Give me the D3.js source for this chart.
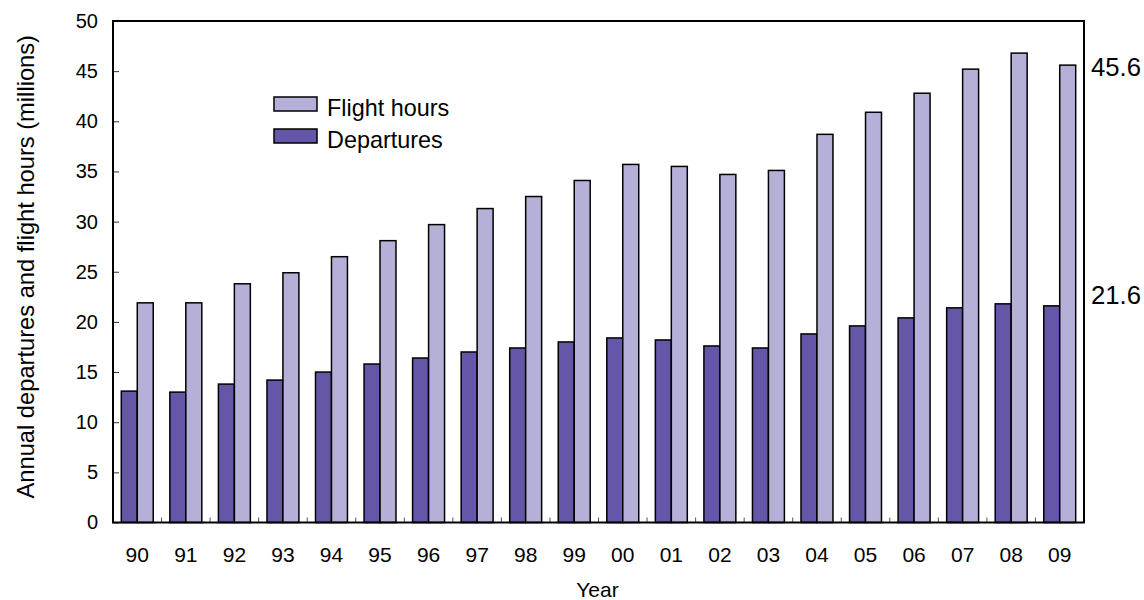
<!DOCTYPE html>
<html>
<head>
<meta charset="utf-8">
<script src="https://cdn.jsdelivr.net/npm/d3@7"></script>
<style>
  html, body { margin: 0; padding: 0; background: #fff; }
  svg { display: block; font-family: "Liberation Sans", Arial, sans-serif; }
</style>
</head>
<body>
<svg id="chart" width="1144" height="600"></svg>
<script>
const years = ["90","91","92","93","94","95","96","97","98","99","00","01","02","03","04","05","06","07","08","09"];
const departures = [13.1, 13.0, 13.8, 14.2, 15.0, 15.8, 16.4, 17.0, 17.4, 18.0, 18.4, 18.2, 17.6, 17.4, 18.8, 19.6, 20.4, 21.4, 21.8, 21.6];
const flightHours = [21.9, 21.9, 23.8, 24.9, 26.5, 28.1, 29.7, 31.3, 32.5, 34.1, 35.7, 35.5, 34.7, 35.1, 38.7, 40.9, 42.8, 45.2, 46.8, 45.6];
const yTicks = [0, 5, 10, 15, 20, 25, 30, 35, 40, 45, 50];
const seriesNames = ["Departures", "Flight hours"];
const legendOrder = ["Flight hours", "Departures"];
const endLabels = ["45.6", "21.6"];

const colors = { "Departures": "#6556a8", "Flight hours": "#b5b0d8" };
const values = { "Departures": departures, "Flight hours": flightHours };

const svg = d3.select("#chart");
const m = { left: 113, right: 1084, top: 21, bottom: 522.5 };

const x = d3.scaleBand().domain(years).range([m.left, m.right]).padding(0);
const x1 = d3.scaleBand().domain(seriesNames).range([0, x.bandwidth()]).paddingInner(0).paddingOuter(0.52);
const y = d3.scaleLinear().domain([0, 50]).range([m.bottom, m.top]);

// bars
const g = svg.append("g");
seriesNames.forEach(s => {
  g.selectAll(null)
    .data(years.map((yr, i) => ({ yr, v: values[s][i] })))
    .join("rect")
    .attr("x", d => x(d.yr) + x1(s))
    .attr("y", d => y(d.v))
    .attr("width", x1.bandwidth())
    .attr("height", d => y(0) - y(d.v))
    .attr("fill", colors[s])
    .attr("stroke", "#000")
    .attr("stroke-width", 1.5);
});

// y axis
const yAxis = d3.axisLeft(y).tickValues(yTicks).tickSize(-6).tickPadding(15);
const ya = svg.append("g").attr("transform", `translate(${m.left},0)`).call(yAxis);
ya.select(".domain").remove();
ya.selectAll(".tick line").attr("stroke", "#333").attr("stroke-width", 1);
ya.selectAll(".tick text").attr("font-size", 20).attr("fill", "#000")
  .attr("font-family", "Liberation Sans, Arial, sans-serif");

// x axis (labels)
const xAxis = d3.axisBottom(x).tickSize(0).tickPadding(25);
const xa = svg.append("g").attr("transform", `translate(0,${m.bottom})`).call(xAxis);
xa.select(".domain").remove();
xa.selectAll(".tick text").attr("font-size", 21).attr("fill", "#000")
  .attr("font-family", "Liberation Sans, Arial, sans-serif");

// x boundary ticks (inside, at category edges)
svg.append("g").selectAll("line")
  .data(years.slice(1))
  .join("line")
  .attr("x1", d => x(d)).attr("x2", d => x(d))
  .attr("y1", m.bottom).attr("y2", m.bottom - 5)
  .attr("stroke", "#555").attr("stroke-width", 1);

// frame
svg.append("rect")
  .attr("x", m.left).attr("y", m.top)
  .attr("width", m.right - m.left).attr("height", m.bottom - m.top)
  .attr("fill", "none").attr("stroke", "#000").attr("stroke-width", 2);

// axis titles
svg.append("text")
  .attr("transform", `translate(34,${(m.top + m.bottom) / 2 - 5}) rotate(-90)`)
  .attr("text-anchor", "middle")
  .attr("font-size", 23.7)
  .text("Annual departures and flight hours (millions)");

svg.append("text")
  .attr("x", (m.left + m.right) / 2 - 1)
  .attr("y", 597)
  .attr("text-anchor", "middle")
  .attr("font-size", 21)
  .text("Year");

// legend
const leg = svg.append("g").attr("transform", "translate(274,97)");
legendOrder.forEach((s, i) => {
  const row = leg.append("g").attr("transform", `translate(0,${i * 32})`);
  row.append("rect").attr("width", 43).attr("height", 14)
    .attr("fill", colors[s]).attr("stroke", "#000").attr("stroke-width", 1.5);
  row.append("text").attr("x", 53).attr("y", 18.5).attr("font-size", 23.4).text(s);
});

// end labels
const lastIdx = years.length - 1;
svg.append("text").attr("x", 1091).attr("y", y(flightHours[lastIdx]) + 11)
  .attr("font-size", 25.7).text(endLabels[0]);
svg.append("text").attr("x", 1091).attr("y", y(departures[lastIdx]) - 2)
  .attr("font-size", 25.7).text(endLabels[1]);
</script>
</body>
</html>
